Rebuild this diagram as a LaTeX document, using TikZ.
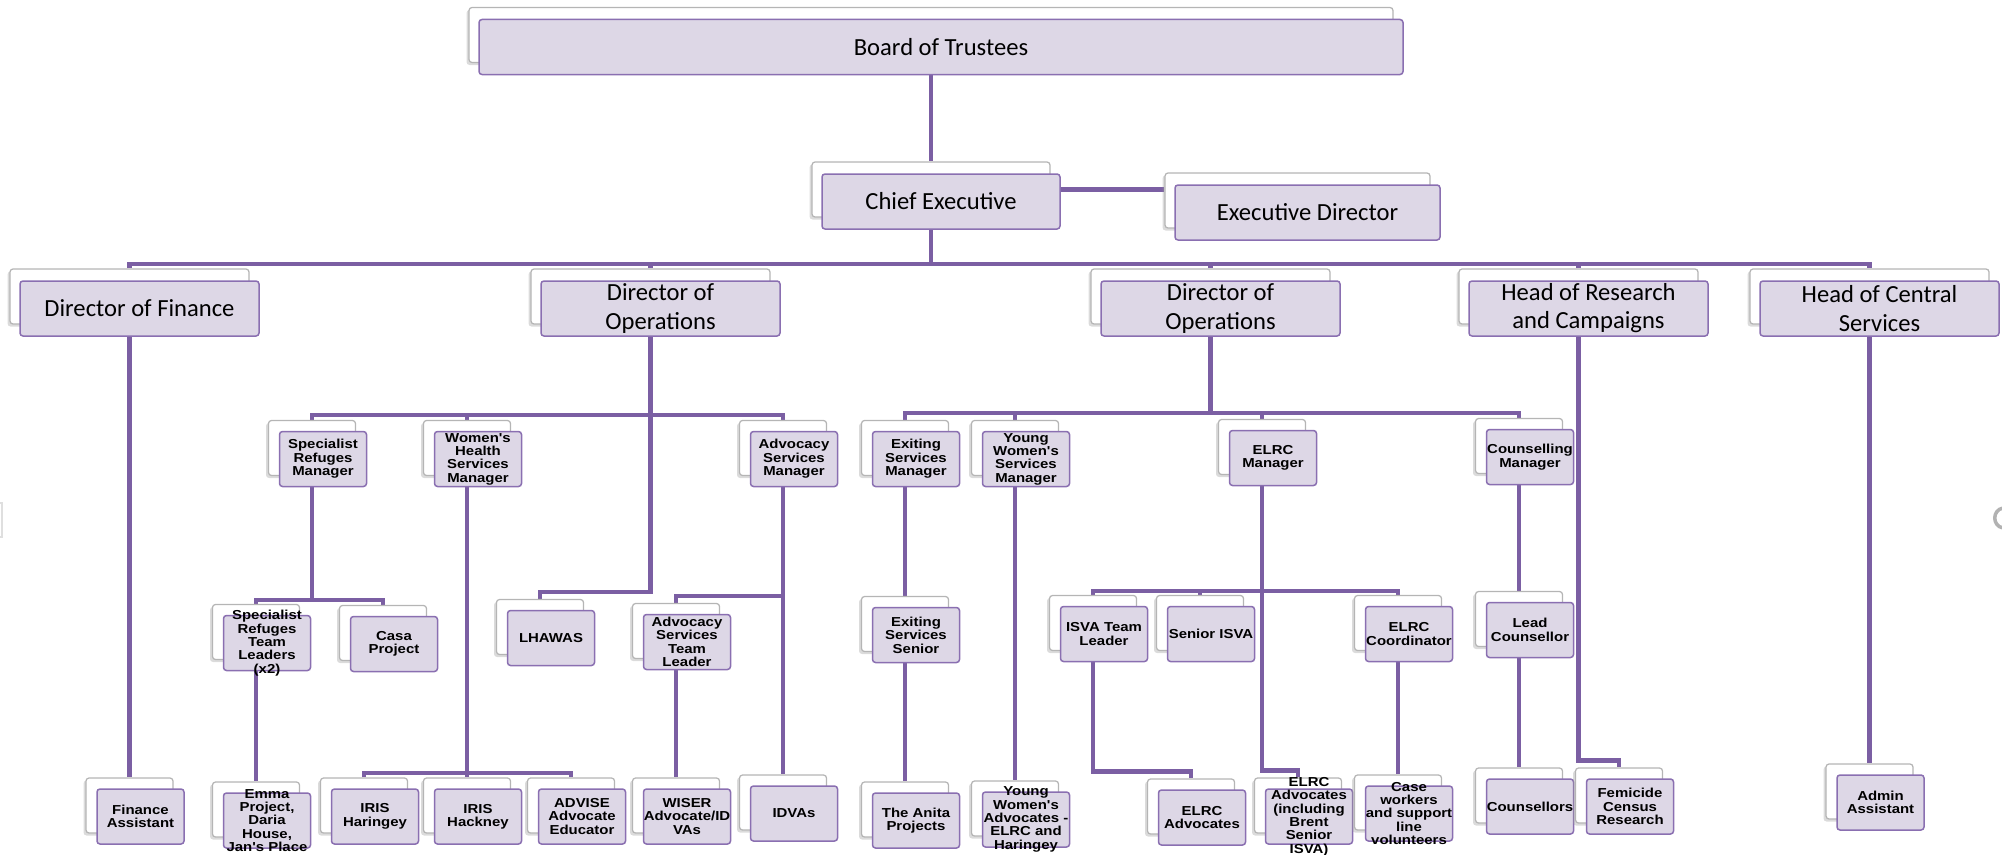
\documentclass[tikz,border=0pt]{standalone}
\usepackage{fontspec}
\usepackage{tikz}
\usetikzlibrary{calc,shadows}

\newfontfamily\bigfont{Carlito}
\newfontfamily\smallfont[FakeStretch=1.15]{Liberation Sans}

\definecolor{linkpurple}{HTML}{7B5FA3}
\definecolor{boxedge}{HTML}{8A6FB1}
\definecolor{boxfill}{HTML}{DDD7E6}
\definecolor{backedge}{HTML}{B5B5B5}

\pgfdeclarelayer{bg}
\pgfsetlayers{bg,main}

\tikzset{
  backbox/.style={draw=backedge, fill=white, rounded corners=0.6mm, line width=0.25mm,
    minimum height=11mm, inner sep=0pt,
    drop shadow={shadow xshift=-0.5mm, shadow yshift=-0.5mm, fill=black!40, opacity=0.35}},
  frontbox/.style={draw=boxedge, fill=boxfill, rounded corners=0.6mm, line width=0.3mm,
    minimum height=11mm, inner sep=0pt},
  bigtext/.style={font=\bigfont\fontsize{14}{16}\selectfont, align=center},
  smalltext/.style={font=\smallfont\bfseries\fontsize{7.4}{7.6}\selectfont, align=center, inner sep=0pt},
  link/.style={draw=linkpurple, line width=0.95mm},
}

% back box carries the name, front box carries the text
\newcommand{\bigrole}[5]{%
  \node[backbox, minimum width=#4*0.2mm] (#1) at (#2,#3) {};
  \node[frontbox, bigtext, minimum width=#4*0.2mm] (#1-f) at ($(#1)+(10,12)$) {#5};
}
\newcommand{\smallrole}[4]{%
  \node[backbox, minimum width=17.4mm] (#1) at (#2,#3) {};
  \node[frontbox, minimum width=17.4mm] (#1-f) at ($(#1)+(11,11)$) {};
  \node[smalltext] at (#1-f) {#4};
}

\begin{document}
\begin{tikzpicture}[x=0.2mm, y=-0.2mm]
  \useasboundingbox (0,0) rectangle (2002,854);

  % top of the chart
  \bigrole{board}{931}{35}{924}{Board of Trustees}
  \bigrole{chief}{931}{189.5}{238}{Chief Executive}
  \bigrole{exec}{1297.5}{200.5}{265}{Executive Director}

  \bigrole{dof}{129.5}{296.5}{239}{Director of Finance}
  \bigrole{opsa}{650.5}{296.5}{239}{Director of\\Operations}
  \bigrole{opsb}{1210.5}{296.5}{239}{Director of\\Operations}
  \bigrole{hor}{1578.5}{296.5}{239}{Head of Research\\and Campaigns}
  \bigrole{hocs}{1869.5}{296.5}{239}{Head of Central\\Services}

  % managers
  \smallrole{srm}{312}{448}{Specialist\\Refuges\\Manager}
  \smallrole{whsm}{467}{448}{Women's\\Health\\Services\\Manager}
  \smallrole{asm}{783}{448}{Advocacy\\Services\\Manager}
  \smallrole{esm}{905}{448}{Exiting\\Services\\Manager}
  \smallrole{ywsm}{1015}{448}{Young\\Women's\\Services\\Manager}
  \smallrole{elrcm}{1262}{447}{ELRC\\Manager}
  \smallrole{cm}{1519}{446}{Counselling\\Manager}

  % team leaders
  \smallrole{srtl}{256}{632}{Specialist\\Refuges\\Team\\Leaders\\(x2)}
  \smallrole{casa}{383}{633}{Casa\\Project}
  \smallrole{lhawas}{540}{627}{LHAWAS}
  \smallrole{astl}{676}{631}{Advocacy\\Services\\Team\\Leader}
  \smallrole{ess}{905}{624}{Exiting\\Services\\Senior}
  \smallrole{isvatl}{1093}{623}{ISVA Team\\Leader}
  \smallrole{senisva}{1200}{623}{Senior ISVA}
  \smallrole{coord}{1398}{623}{ELRC\\Coordinator}
  \smallrole{leadc}{1519}{619}{Lead\\Counsellor}

  % bottom row
  \smallrole{finasst}{129.5}{805.5}{Finance\\Assistant}
  \smallrole{emma}{256}{809.5}{Emma\\Project,\\Daria\\House,\\Jan's Place}
  \smallrole{haringey}{364}{805.5}{IRIS\\Haringey}
  \smallrole{hackney}{467}{805.5}{IRIS\\Hackney}
  \smallrole{advise}{571}{805.5}{ADVISE\\Advocate\\Educator}
  \smallrole{wiser}{676}{805.5}{WISER\\Advocate/ID\\VAs}
  \smallrole{idvas}{783}{802.5}{IDVAs}
  \smallrole{anita}{905}{809.5}{The Anita\\Projects}
  \smallrole{ywa}{1015}{808.5}{Young\\Women's\\Advocates -\\ELRC and\\Haringey}
  \smallrole{elrcadv}{1191}{806.5}{ELRC\\Advocates}
  \smallrole{elrcinc}{1298}{805.5}{ELRC\\Advocates\\(including\\Brent\\Senior\\ISVA)}
  \smallrole{casew}{1398}{802.5}{Case\\workers\\and support\\line\\volunteers}
  \smallrole{couns}{1519}{795.5}{Counsellors}
  \smallrole{femicide}{1619}{795.5}{Femicide\\Census\\Research}
  \smallrole{admin}{1869.5}{791.5}{Admin\\Assistant}

  % bar heights
  \coordinate (lvl2) at (0,264);
  \coordinate (opsabar) at (0,415);
  \coordinate (opsbbar) at (0,413);
  \coordinate (srbar) at (0,600);
  \coordinate (irisbar) at (0,773);
  \coordinate (elrcbar) at (0,591);

  \begin{pgfonlayer}{bg}
    \draw[link] (board.south) -- (chief.north);
    \draw[link] (chief.east) -- (chief.east -| exec.west);
    \draw[link] (chief.south) -- (chief.south |- lvl2);
    \draw[link] (dof.north) |- (hocs.north |- lvl2) -- (hocs.north);
    \foreach \n in {opsa,opsb,hor}
      \draw[link] (\n.north) -- (\n.north |- lvl2);

    % first director of operations
    \draw[link] (opsa.south) |- ($(lhawas.north)+(0,-7)$) -- (lhawas.north);
    \draw[link] (srm.north) |- (asm.north |- opsabar) -- (asm.north);
    \draw[link] (whsm.north) -- (whsm.north |- opsabar);
    \draw[link] (srm.south) -- (srm.south |- srbar);
    \draw[link] (srtl.north) |- (casa.north |- srbar) -- (casa.north);
    \draw[link] (srtl.south) -- (emma.north);
    \draw[link] (whsm.south) -- (hackney.north);
    \draw[link] (haringey.north) |- (advise.north |- irisbar) -- (advise.north);
    \draw[link] (asm.south) |- ($(astl.north)+(0,-7)$) -- (astl.north);
    \draw[link] (asm.south) -- (idvas.north);
    \draw[link] (astl.south) -- (wiser.north);

    % second director of operations
    \draw[link] (opsb.south) -- (opsb.south |- opsbbar);
    \draw[link] (esm.north) |- (cm.north |- opsbbar) -- (cm.north);
    \draw[link] (ywsm.north) -- (ywsm.north |- opsbbar);
    \draw[link] (elrcm.north) -- (elrcm.north |- opsbbar);
    \draw[link] (esm.south) -- (ess.north);
    \draw[link] (ess.south) -- (anita.north);
    \draw[link] (ywsm.south) -- (ywa.north);
    \draw[link] (elrcm.south) -- (elrcm.south |- elrcbar);
    \draw[link] (isvatl.north) |- (coord.north |- elrcbar) -- (coord.north);
    \draw[link] (senisva.north) -- (senisva.north |- elrcbar);
    \draw[link] (elrcm.south) |- ($(elrcinc.north)+(0,-7)$) -- (elrcinc.north);
    \draw[link] (isvatl.south) |- ($(elrcadv.north)+(0,-7)$) -- (elrcadv.north);
    \draw[link] (coord.south) -- (casew.north);
    \draw[link] (cm.south) -- (leadc.north);
    \draw[link] (leadc.south) -- (couns.north);

    % other heads
    \draw[link] (dof.south) -- (finasst.north);
    \draw[link] (hor.south) |- ($(femicide.north)+(0,-7)$) -- (femicide.north);
    \draw[link] (hocs.south) -- (admin.north);
  \end{pgfonlayer}

  % marks at the page edges
  \draw[gray!25, line width=0.3mm] (-5,503) rectangle (2,537);
  \draw[gray!60, line width=0.7mm] (2003,508) .. controls (1992,510) and (1992,526) .. (2003,528);
\end{tikzpicture}
\end{document}
